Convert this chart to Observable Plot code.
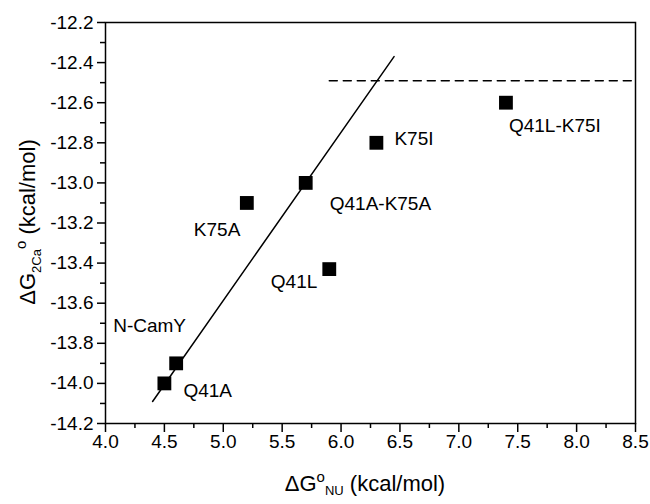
<!DOCTYPE html>
<html>
<head>
<meta charset="utf-8">
<script src="https://cdn.jsdelivr.net/npm/d3@7"></script>
<script src="https://cdn.jsdelivr.net/npm/@observablehq/plot@0.6"></script>
<style>
  html, body { margin: 0; padding: 0; background: #fff; }
</style>
</head>
<body>
<div id="chart"></div>
<script>
// ---- data ----
const names = ["Q41A", "N-CamY", "K75A", "Q41A-K75A", "Q41L", "K75I", "Q41L-K75I"];
const dGNU  = [4.5, 4.6, 5.2, 5.7, 5.9, 6.3, 7.4];
const dG2Ca = [-14.0, -13.9, -13.1, -13.0, -13.43, -12.8, -12.6];

// fitted line end points and dashed reference level
const fitX = [4.40, 6.45];
const fitY = [-14.09, -12.37];
const refX = [5.9, 8.5];
const refY = [-12.49, -12.49];

// axis ticks
const xMajor = [4.0, 4.5, 5.0, 5.5, 6.0, 6.5, 7.0, 7.5, 8.0, 8.5];
const xMinor = [4.25, 4.75, 5.25, 5.75, 6.25, 6.75, 7.25, 7.75, 8.25];
const yMajor = [-14.2, -14.0, -13.8, -13.6, -13.4, -13.2, -13.0, -12.8, -12.6, -12.4, -12.2];
const yMinor = [-14.1, -13.9, -13.7, -13.5, -13.3, -13.1, -12.9, -12.7, -12.5, -12.3];

// label placement (pixel offsets from each point)
const labelPlace = [
  {dx: 19, dy: 8, anchor: "start"},
  {dx: -63, dy: -37, anchor: "start"},
  {dx: -53, dy: 27, anchor: "start"},
  {dx: 24, dy: 21, anchor: "start"},
  {dx: -12, dy: 13, anchor: "end"},
  {dx: 18, dy: -4, anchor: "start"},
  {dx: 3, dy: 23, anchor: "start"}
];

const points = names.map((n, i) => ({name: n, x: dGNU[i], y: dG2Ca[i]}));
const fit = fitX.map((x, i) => ({x, y: fitY[i]}));
const ref = refX.map((x, i) => ({x, y: refY[i]}));

const font = "'Liberation Sans', Arial, Helvetica, sans-serif";
const fmt = d => d.toFixed(1);

const labelMarks = points.map((p, i) => Plot.text([p], {
  x: "x", y: "y", text: "name",
  dx: labelPlace[i].dx, dy: labelPlace[i].dy,
  textAnchor: labelPlace[i].anchor,
  fontSize: 19, fill: "black"
}));

const svg = Plot.plot({
  width: 650,
  height: 504,
  marginLeft: 105,
  marginRight: 15,
  marginTop: 22,
  marginBottom: 81,
  style: {fontFamily: font, background: "#fff", color: "black"},
  x: {domain: [4, 8.5]},
  y: {domain: [-14.2, -12.2]},
  marks: [
    Plot.frame({stroke: "black", strokeWidth: 1.5}),
    Plot.axisX(xMajor, {tickSize: 9, tickPadding: 2, tickFormat: fmt, fontSize: 19, strokeWidth: 1.5, label: null}),
    Plot.axisX(xMinor, {tickSize: 5, tickFormat: () => "", strokeWidth: 1.5, label: null}),
    Plot.axisY(yMajor, {tickSize: 8, tickPadding: 4, tickFormat: fmt, fontSize: 19, strokeWidth: 1.5, label: null}),
    Plot.axisY(yMinor, {tickSize: 5, tickFormat: () => "", strokeWidth: 1.5, label: null}),
    Plot.line(fit, {x: "x", y: "y", stroke: "black", strokeWidth: 1.5}),
    Plot.line(ref, {x: "x", y: "y", stroke: "black", strokeWidth: 1.5, strokeDasharray: "8,6"}),
    Plot.dot(points, {x: "x", y: "y", symbol: "square", r: 7.8, fill: "black", stroke: "none"}),
    ...labelMarks
  ]
});

document.getElementById("chart").appendChild(svg);

// axis titles with super/subscripts
const s = d3.select(svg);
const xt = s.append("text")
  .attr("x", 365).attr("y", 491)
  .attr("text-anchor", "middle")
  .attr("font-family", font).attr("font-size", 22).attr("fill", "black");
xt.append("tspan").text("ΔG");
xt.append("tspan").attr("dy", -9).attr("font-size", 15).text("o");
xt.append("tspan").attr("dy", 13).attr("font-size", 13).text("NU");
xt.append("tspan").attr("dy", -4).text(" (kcal/mol)");

const yt = s.append("text")
  .attr("transform", "translate(35,222) rotate(-90)")
  .attr("text-anchor", "middle")
  .attr("font-family", font).attr("font-size", 22).attr("fill", "black");
yt.append("tspan").text("ΔG");
yt.append("tspan").attr("dy", 6).attr("font-size", 13).text("2Ca");
yt.append("tspan").attr("dy", -15).attr("font-size", 15).text("o");
yt.append("tspan").attr("dy", 9).text(" (kcal/mol)");
</script>
</body>
</html>
